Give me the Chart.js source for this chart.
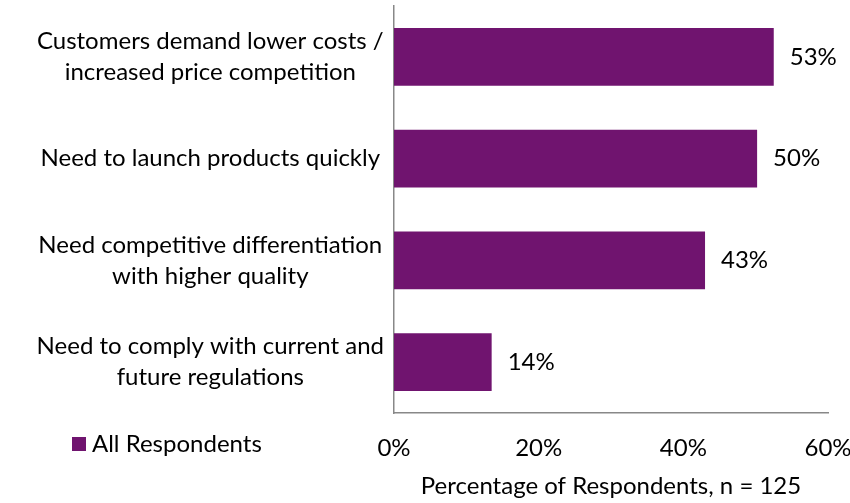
<!DOCTYPE html>
<html lang="en">

<head>
    <meta charset="UTF-8">
    <title>Drivers - All Respondents</title>
    <script src="https://cdn.jsdelivr.net/npm/chart.js"></script>
    <style>
        body { margin: 0; background: #fff; }
        .chart-container { position: relative; width: 850px; height: 503px; }
        #legend {
            position: absolute; left: 72px; top: 428px; height: 29px; line-height: 29px;
            font-family: Lato, "Open Sans", sans-serif; font-size: 24px; color: #000;
            display: flex; align-items: center; white-space: nowrap;
        }
        #legend span.box { display: inline-block; width: 14px; height: 14px; margin-right: 6px; margin-top: 2px; }
    </style>
</head>

<body>
    <div class="chart-container">
        <canvas id="driversChart" width="850" height="503"></canvas>
        <div id="legend"></div>
    </div>

    <script>
        const categories = [
            ["Customers demand lower costs /", "increased price competition"],
            "Need to launch products quickly",
            ["Need competitive differentiation", "with higher quality"],
            ["Need to comply with current and", "future regulations"]
        ];
        const allRespondents = [52.5, 50.2, 43.0, 13.5];
        const seriesName = "All Respondents";
        const xTicks = [0, 20, 40, 60];
        const axisTitle = "Percentage of Respondents, n = 125";

        const purple = '#70146f';
        const fontFamily = 'Lato, "Open Sans", sans-serif';

        // percentage labels to the right of each bar
        const valueLabels = {
            id: 'valueLabels',
            afterDatasetsDraw(chart) {
                const ctx = chart.ctx;
                const meta = chart.getDatasetMeta(0);
                ctx.save();
                ctx.font = '24px ' + fontFamily;
                ctx.fillStyle = '#000';
                ctx.textAlign = 'left';
                ctx.textBaseline = 'middle';
                meta.data.forEach((bar, i) => {
                    ctx.fillText(Math.round(allRespondents[i]) + '%', bar.x + 16, bar.y);
                });
                ctx.restore();
            }
        };

        const ctx = document.getElementById('driversChart').getContext('2d');
        const myChart = new Chart(ctx, {
            type: 'bar',
            data: {
                labels: categories,
                datasets: [{
                    label: seriesName,
                    data: allRespondents,
                    backgroundColor: purple,
                    barPercentage: 0.57,
                    categoryPercentage: 1
                }]
            },
            plugins: [valueLabels],
            options: {
                indexAxis: 'y',
                responsive: false,
                animation: false,
                layout: { padding: { top: 6, right: 22, left: 0, bottom: 0 } },
                plugins: {
                    legend: { display: false },
                    tooltip: { enabled: false }
                },
                scales: {
                    x: {
                        min: 0,
                        max: 60,
                        afterBuildTicks(axis) {
                            axis.ticks = xTicks.map(v => ({ value: v }));
                        },
                        afterFit(axis) {
                            axis.height = 90;
                            axis.paddingLeft = 0;
                            axis.paddingRight = 0;
                        },
                        grid: { display: false, drawTicks: false },
                        border: { display: true, color: '#888', width: 1.5 },
                        ticks: {
                            padding: 21,
                            color: '#000',
                            font: { family: fontFamily, size: 24 },
                            callback: v => v + '%'
                        },
                        title: {
                            display: true,
                            text: axisTitle,
                            color: '#000',
                            font: { family: fontFamily, size: 24 },
                            padding: { top: 10, bottom: 2 }
                        }
                    },
                    y: {
                        afterFit(axis) {
                            axis.width = 394;
                            axis.paddingTop = 0;
                            axis.paddingBottom = 0;
                        },
                        grid: { display: false, drawTicks: false },
                        border: { display: true, color: '#888', width: 1.5 },
                        ticks: {
                            crossAlign: 'center',
                            padding: 10,
                            color: '#000',
                            font: { family: fontFamily, size: 24, lineHeight: 1.3 }
                        }
                    }
                }
            }
        });

        const legend = document.getElementById('legend');
        legend.innerHTML = '<span class="box" style="background:' + purple + '"></span>' + seriesName;
    </script>
</body>

</html>
